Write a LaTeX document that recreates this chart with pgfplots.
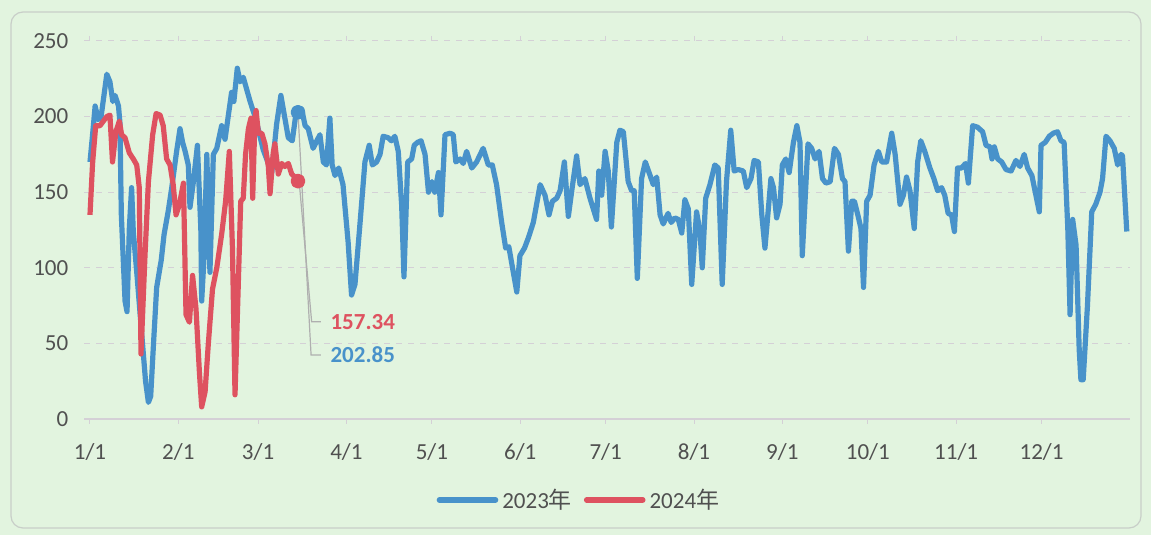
\documentclass[border=0pt]{standalone}
\usepackage{pgfplots}
\pgfplotsset{compat=1.18}
\usepackage{fontspec}
\setmainfont{Carlito}
\newfontfamily\cjk{Noto Sans CJK SC}
\definecolor{bg}{RGB}{226,244,223}
\definecolor{frame}{RGB}{200,206,200}
\definecolor{gridc}{RGB}{212,208,214}
\definecolor{labc}{RGB}{80,80,80}
\definecolor{blueS}{RGB}{72,146,202}
\definecolor{redS}{RGB}{222,82,96}
\definecolor{leader}{RGB}{175,175,175}
\begin{document}
\begin{tikzpicture}[x=1pt,y=1pt]
\fill[bg] (0,0) rectangle (575.5,267.5);
\useasboundingbox (0,0) rectangle (575.5,267.5);
\draw[frame, rounded corners=6pt, line width=0.6pt] (5.5,3.5) rectangle (570.5,261.5);
\begin{axis}[
  at={(42.15pt,58pt)}, anchor=south west, scale only axis,
  width=522.8pt, height=189pt,
  xmin=-2, xmax=365, ymin=0, ymax=250,
  axis line style={draw=none},
  clip=false,
  /pgf/number format/assume math mode=true,
  ytick={0,50,100,150,200,250},
  ymajorgrids, grid style={dashed, gridc, line width=0.5pt},
  xtick={0,31,59,90,120,151,181,212,243,273,304,334},
  xticklabels={1/1,2/1,3/1,4/1,5/1,6/1,7/1,8/1,9/1,10/1,11/1,12/1},
  tick label style={font=\fontsize{11.5}{13}\selectfont, text=labc},
  ytick style={draw=none},
  xtick style={draw=gridc, line width=0.5pt},
  tick align=outside, major tick length=2.5pt,
  yticklabel style={xshift=-2pt},
  xticklabel style={yshift=-6pt},
  legend style={at={(0.474,-0.214)}, anchor=center, draw=none, fill=none,
    font=\fontsize{11.5}{13}\selectfont, text=labc, legend columns=2,
    /tikz/every even column/.append style={column sep=4pt}},
  legend image code/.code={\draw[line width=2.8pt, line cap=round] (0pt,0pt) -- (28pt,0pt);},
  every axis plot/.append style={line width=2.6pt, line join=round, mark=none},
]
\draw[gridc, line width=0.6pt] (axis cs:-2,0) -- (axis cs:365,0);
\addplot[blueS] coordinates {
(0,170)(1,190)(1.8,207)(2.9,198)(3.9,200)(5.9,228)(7,223)(8,210)(8.8,214)(10,207)(10.5,196)
(11,135)(12.3,78)(13,71)(13.8,126)(14.6,153)(15.2,124)(16.5,95)(18,60)(19.5,25)(20.5,11)
(21.3,15)(22.3,50)(23.4,87)(25,105)(26,122)(27.5,138)(28.7,153)(30.4,177)(31.6,192)(32.5,183)
(33.4,177)(34.5,168)(35.1,140)(36.3,157)(37.7,181)(38.9,126)(39.2,78)(40,106)(41,175)(42.1,97)
(43.3,175)(44.5,179)(46.2,194)(47.4,185)(48.5,200)(49.7,216)(50.5,210)(51.7,232)(52.7,223)
(53.8,226)(55,218)(56.2,210)(57.4,203)(58,200)(60.8,178)(63.8,163)(65.5,195)(67,214)(69.6,186)
(71,184)(72.5,205)(73,202.85)(74.3,205)(75.5,194)(76.6,192)(78.3,179)(80.7,188)(81.9,170)(83,168)
(84.2,199)(85,168)(86,161)(87.3,166)(88.8,155)(90.6,117)(91.8,82)(93,89)(94.8,130)(96.5,170)
(98,181)(99.1,168)(100.6,170)(101.8,175)(102.9,187)(104.7,186)(105.8,184)(107,187)(108.2,177)
(109.4,141)(110.2,94)(111.5,170)(112.9,172)(113.8,181)(115,183)(116.2,184)(117.6,175)(118.8,150)
(120,157)(121,150)(122.3,163)(123.2,135)(124.6,188)(126.4,189)(127.5,188)(128.4,170)(129.9,172)
(131,169)(132.2,177)(134,166)(135.7,170)(138,179)(139.8,168)(141.2,168)(142.7,155)(144.5,130)
(145.9,113)(147,114)(148.3,100)(149.8,84)(150.9,108)(152.5,113)(153.9,120)(155.6,130)(158,155)
(159.7,148)(161.1,135)(162.3,144)(163.8,146)(165,151)(166.5,170)(167.9,134)(169.1,151)(170.8,174)
(172,155)(173.7,159)(175.5,146)(177.8,132)(178.6,164)(179.6,148)(180.8,177)(181.9,164)(183,127)
(184.9,183)(186,191)(187.2,190)(188.9,157)(190.1,151)(191,151)(192.1,93)(193.6,159)(194.9,170)
(196.6,161)(197.7,155)(198.9,160)(200.1,135)(201.2,129)(202.9,136)(204,130)(205.3,133)(206.5,132)
(207.7,123)(208.8,145)(210,139)(211.2,89)(212.9,137)(214.1,124)(214.9,100)(216.1,146)(217.6,155)
(219.3,168)(220.5,166)(221.9,89)(223.4,157)(224.9,191)(226.1,164)(227.5,165)(229.3,164)(230.5,153)
(232,159)(233.1,171)(234.6,170)(235.8,135)(236.9,113)(238.1,139)(239,159)(239.9,153)(241,133)
(242.2,142)(243,168)(244.2,172)(245.4,163)(246.9,183)(248.1,194)(249.2,183)(250,108)(252,182)
(253.3,179)(254.5,172)(255.9,177)(257.1,159)(258.3,156)(259.8,157)(261.3,179)(262.7,175)(264.1,159)
(265,157)(266.2,111)(267.4,144)(268.3,144)(269.5,135)(270.6,126)(271.5,87)(272.6,144)(273.8,148)
(275.2,168)(276.7,177)(277.9,170)(279.6,170)(281.4,189)(282.6,175)(284.3,142)(285.5,148)(286.6,160)
(287.8,151)(289.3,126)(290.5,170)(291.6,184)(293,177)(294.8,166)(296.2,159)(297.5,151)(298.9,153)
(300,148)(301.2,136)(302.4,135)(303.4,124)(304.5,166)(305.9,166)(307.3,169)(308.3,156)(309.8,194)
(311.5,193)(313.3,190)(314.5,181)(315.9,180)(316.6,172)(317.4,180)(318.6,172)(320,170)(321.5,165)
(323.3,164)(325,171)(326.4,167)(327.9,175)(329.1,166)(330.6,161)(332,148)(333.2,137)(333.8,181)
(335.3,183)(336.7,187)(338.1,189)(339.6,190)(340.8,184)(341.9,183)(343.2,126)(344,69)(344.9,132)
(346.1,115)(347.2,46)(347.8,26)(348.6,26)(350.1,75)(351.6,137)(353,142)(354.5,150)(355.4,159)
(356.6,187)(358,184)(359.5,179)(360.7,168)(361.9,175)(362.4,174)(363.9,124)
};
\addlegendentry{2023{\cjk 年}}
\addplot[redS] coordinates {
(0,135)(0.9,169)(2,194)(3.5,194)(4.7,197)(5.9,200)(7,201)(7.9,170)(9.1,190)(10.3,197)(11.1,188)
(12.3,186)(13.8,176)(15.2,172)(16.4,168)(17.3,153)(17.9,43)(19.3,108)(20.5,157)(22,188)(23.2,202)
(24.6,201)(25.7,194)(26.9,172)(28.1,168)(29.2,155)(30.2,135)(31.4,142)(32.8,156)(33.7,69)(34.9,64)
(36,95)(37.2,73)(38.4,31)(39.2,8)(40.4,18)(41.5,49)(43,86)(44.5,100)(46.2,122)(47.6,144)(48.9,177)
(50,113)(50.9,16)(52,86)(52.9,144)(53.8,146)(54.6,175)(55.6,192)(56.5,199)(57.1,146)(57.9,199)
(58.3,204)(59.1,189)(60.3,189)(61.4,182)(62.6,167)(63.2,149)(64.3,176)(64.9,182)(66.1,162)
(67.3,169)(68.4,167)(69.6,169)(70.8,162)(71.9,160)(73,157.34)
};
\addlegendentry{2024{\cjk 年}}
\addplot[blueS, only marks, mark=*, mark size=2.4pt, forget plot] coordinates {(73,202.85)};
\addplot[redS, only marks, mark=*, mark size=2.4pt, forget plot] coordinates {(73,157.34)};
\draw[leader, line width=0.6pt] (axis cs:73,202.85) -- (axis cs:77.6,42.3) -- (axis cs:81,42.3);
\draw[leader, line width=0.6pt] (axis cs:73.4,157.34) -- (axis cs:77.8,64.3) -- (axis cs:81,64.3);
\node[anchor=west, inner sep=0pt, text=redS, font=\fontsize{11.5}{13}\selectfont\bfseries] at (axis cs:84.3,64.3) {157.34};
\node[anchor=west, inner sep=0pt, text=blueS, font=\fontsize{11.5}{13}\selectfont\bfseries] at (axis cs:84.3,42.3) {202.85};
\end{axis}
\end{tikzpicture}
\end{document}
